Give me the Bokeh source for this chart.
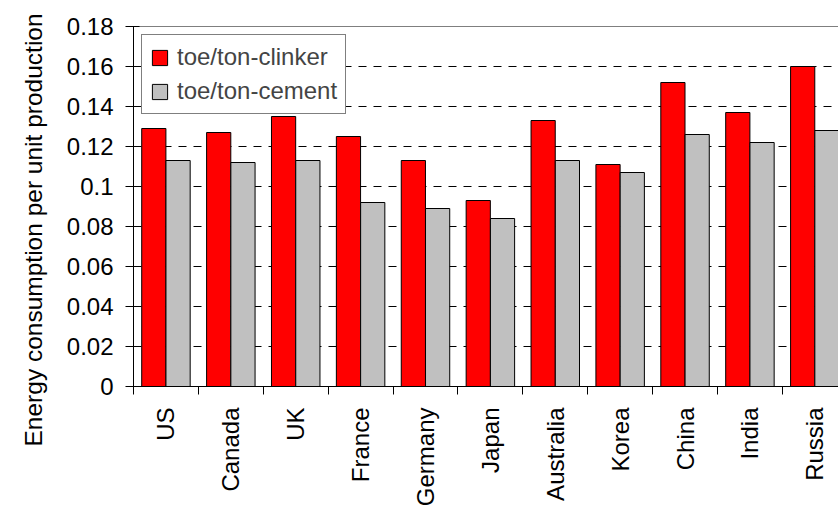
import math
from bokeh.plotting import figure
from bokeh.models import (Range1d, FixedTicker, CustomJSTickFormatter, Span, Title,
                          Legend, LegendItem, ColumnDataSource)
from bokeh.transform import dodge
from bokeh.embed import file_html
from bokeh.resources import INLINE

countries = ["US", "Canada", "UK", "France", "Germany", "Japan",
             "Australia", "Korea", "China", "India", "Russia"]
clinker = [0.129, 0.127, 0.135, 0.125, 0.113, 0.093, 0.133, 0.111, 0.152, 0.137, 0.160]
cement = [0.113, 0.112, 0.113, 0.092, 0.089, 0.084, 0.113, 0.107, 0.126, 0.122, 0.128]
series_names = ["toe/ton-clinker", "toe/ton-cement"]
y_ticks = [0, 0.02, 0.04, 0.06, 0.08, 0.1, 0.12, 0.14, 0.16, 0.18]
y_title = "Energy consumption per unit production"

FONT = "Liberation Sans"
FS = "24px"

n = len(countries)
centers = [i + 0.5 for i in range(n)]
bounds = list(range(n + 1))
src = ColumnDataSource(dict(x=centers, clinker=clinker, cement=cement, name=countries))

p = figure(width=838, height=509, x_range=Range1d(0, 10.865), y_range=Range1d(0, 0.18),
           output_backend="svg", toolbar_location=None,
           min_border_left=131, min_border_right=0, min_border_top=26, min_border_bottom=123)
p.outline_line_color = None
p.background_fill_color = "white"
p.border_fill_color = "white"

bw = 0.373
r1 = p.vbar(x=dodge("x", -0.187, range=p.x_range), top="clinker", width=bw, bottom=0,
            source=src, fill_color="#FF0000", line_color="black", line_width=1)
r2 = p.vbar(x=dodge("x", 0.187, range=p.x_range), top="cement", width=bw, bottom=0,
            source=src, fill_color="#C0C0C0", line_color="black", line_width=1)

# x axis
xa = p.xaxis[0]
xa.ticker = FixedTicker(ticks=centers, minor_ticks=bounds)
xa.formatter = CustomJSTickFormatter(args=dict(labels=countries),
    code="const i = Math.floor(tick); return (i >= 0 && i < labels.length) ? labels[i] : '';")
xa.major_label_orientation = math.pi / 2
xa.major_tick_out = 0
xa.major_tick_in = 0
xa.minor_tick_out = 8
xa.minor_tick_in = 0
xa.minor_tick_line_color = "black"
xa.axis_line_color = "black"
xa.major_label_text_font = FONT
xa.major_label_text_font_size = FS
xa.major_label_text_color = "black"
xa.major_label_standoff = 13

# y axis
ya = p.yaxis[0]
ya.ticker = FixedTicker(ticks=y_ticks)
ya.formatter = CustomJSTickFormatter(code="return String(Number(tick.toFixed(2)));")
ya.major_tick_out = 8
ya.major_tick_in = 6
ya.minor_tick_out = 0
ya.minor_tick_in = 0
ya.axis_line_color = "black"
ya.major_tick_line_color = "black"
ya.major_label_text_font = FONT
ya.major_label_text_font_size = FS
ya.major_label_text_color = "black"
ya.major_label_standoff = 12

p.xgrid.visible = False
p.ygrid.ticker = FixedTicker(ticks=y_ticks)
p.ygrid.grid_line_color = "black"
p.ygrid.grid_line_dash = "8 7"
p.ygrid.grid_line_width = 1

p.add_layout(Span(location=y_ticks[-1], dimension="width", line_color="black", line_width=1))

p.add_layout(Title(text=y_title, align="left", offset=-60, standoff=34,
                   text_font=FONT, text_font_size="24.5px", text_font_style="normal",
                   text_color="black"), "left")

legend = Legend(items=[LegendItem(label=series_names[0], renderers=[r1]),
                       LegendItem(label=series_names[1], renderers=[r2])],
                location="top_left", margin=8, padding=8, spacing=6,
                glyph_width=19, glyph_height=19, label_standoff=8,
                label_text_font=FONT, label_text_font_size=FS,
                border_line_color="black", border_line_width=1,
                background_fill_color="white", background_fill_alpha=1)
p.add_layout(legend)

open("out.html", "w").write(file_html(p, INLINE))
